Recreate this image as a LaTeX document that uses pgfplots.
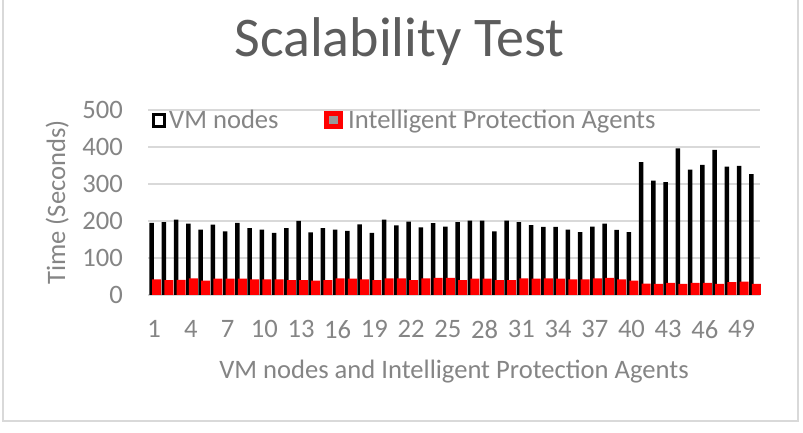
\documentclass[border=0pt]{standalone}
\usepackage{pgfplots}
\pgfplotsset{compat=1.18}
\usepackage{fontspec}
\setmainfont{Carlito}
\definecolor{txtgray}{HTML}{858585}
\definecolor{titlegray}{HTML}{5C5C5C}
\definecolor{gridgray}{HTML}{D9D9D9}
\definecolor{framegray}{HTML}{D9D9D9}
\definecolor{barred}{HTML}{FF0000}
\pgfplotstableread{
x vm ipa
1 195 42
2 197 40
3 204 41
4 193 45
5 177 39
6 190 44
7 172 44
8 195 44
9 181 42
10 177 42
11 168 42
12 181 40
13 200 40
14 169 39
15 181 40
16 177 45
17 173 44
18 191 42
19 168 40
20 204 45
21 188 45
22 198 40
23 183 45
24 194 46
25 185 46
26 197 40
27 201 44
28 201 44
29 172 40
30 201 40
31 197 45
32 189 44
33 184 45
34 184 44
35 177 42
36 170 42
37 185 45
38 193 46
39 176 42
40 170 39
41 359 31
42 309 30
43 305 33
44 396 30
45 339 33
46 352 33
47 392 30
48 347 35
49 349 36
50 327 30
}\datatable
\begin{document}
\begin{tikzpicture}[x=1pt,y=1pt]
\useasboundingbox (0,0) rectangle (803,433);
\clip (0,0) rectangle (803,433);
\fill[white] (0,0) rectangle (803,433);
\draw[framegray, line width=1.5pt] (3,440) -- (3,12) -- (798,12) -- (798,440);
\begin{axis}[
  at={(148pt,138pt)}, anchor=south west,
  scale only axis, width=612pt, height=185pt,
  xmin=0.5, xmax=50.5, ymin=0, ymax=500,
  xtick={1,4,...,49}, ytick={0,100,...,500},
  ymajorgrids, grid style={gridgray, line width=1.2pt},
  axis line style={draw=none},
  major tick length=0pt,
  /pgf/number format/assume math mode=true,
  ticklabel style={font=\fontsize{26.6}{30}\selectfont, text=txtgray},
  yticklabel style={anchor=east, inner sep=0pt, xshift=-25pt},
  xticklabel style={anchor=north, inner sep=0pt, yshift=-25pt},
  clip=false,
]
\addplot[ybar, bar width=4.5pt, bar shift=-2.5pt, fill=black, draw=none] table[x=x, y=vm] {\datatable};
\addplot[ybar, bar width=9pt, bar shift=2.5pt, fill=barred, draw=none] table[x=x, y=ipa] {\datatable};
\end{axis}
% title and axis labels
\node[anchor=base, inner sep=0pt, text=titlegray, font=\fontsize{56}{60}\selectfont] at (399.5,376) {Scalability Test};
\node[anchor=base, inner sep=0pt, text=txtgray, font=\fontsize{26.6}{30}\selectfont] at (454,54.5) {VM nodes and Intelligent Protection Agents};
\node[anchor=base, rotate=90, inner sep=0pt, text=txtgray, font=\fontsize{26.6}{30}\selectfont] at (65,230.5) {Time (Seconds)};
% legend
\draw[black, line width=2.7pt, fill=white] (153.4,306.3) rectangle (164.6,318.3);
\node[anchor=base west, inner sep=0pt, text=txtgray, font=\fontsize{26.6}{30}\selectfont] at (169,304.2) {VM nodes};
\fill[barred] (324,303.5) rectangle (343,321.5);
\fill[gray!80] (329,308.5) rectangle (338,316.5);
\node[anchor=base west, inner sep=0pt, text=txtgray, font=\fontsize{26.6}{30}\selectfont] at (348,304.2) {Intelligent Protection Agents};
\end{tikzpicture}
\end{document}
